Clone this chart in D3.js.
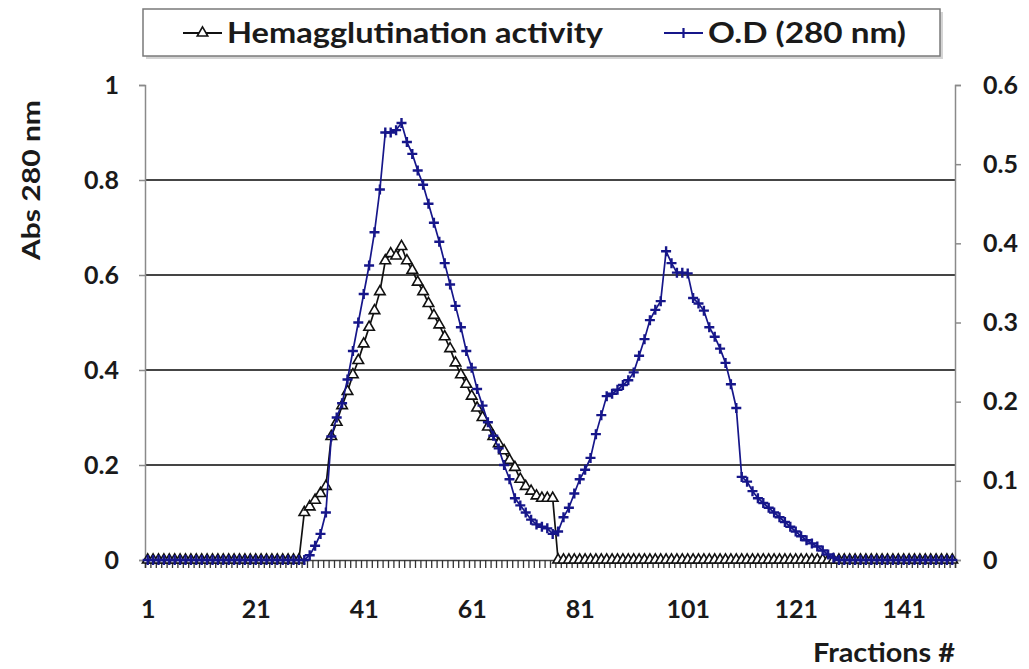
<!DOCTYPE html>
<html>
<head>
<meta charset="utf-8">
<script src="https://cdn.jsdelivr.net/npm/d3@7"></script>
<style>
  html, body { margin: 0; padding: 0; background: #fff; overflow: hidden; }
  svg { display: block; }
  text { font-family: Lato, "Open Sans", sans-serif; font-weight: 700; fill: #1a1a1a; }
</style>
</head>
<body>
<div id="chart"></div>
<script>
// fractions 1..150
const fractions = d3.range(1, 151);

// Hemagglutination activity (left axis), one row = 10 fractions
const hemagglutination = [
  0, 0, 0, 0, 0, 0, 0, 0, 0, 0,
  0, 0, 0, 0, 0, 0, 0, 0, 0, 0,
  0, 0, 0, 0, 0, 0, 0, 0, 0, 0.1,
  0.112, 0.126, 0.14, 0.155, 0.26, 0.29, 0.325, 0.355, 0.39, 0.42,
  0.455, 0.49, 0.525, 0.565, 0.63, 0.645, 0.64, 0.66, 0.63, 0.61,
  0.585, 0.565, 0.54, 0.515, 0.495, 0.47, 0.445, 0.415, 0.39, 0.37,
  0.345, 0.32, 0.3, 0.28, 0.26, 0.245, 0.23, 0.21, 0.195, 0.17,
  0.155, 0.145, 0.135, 0.13, 0.13, 0.13, 0, 0, 0, 0,
  0, 0, 0, 0, 0, 0, 0, 0, 0, 0,
  0, 0, 0, 0, 0, 0, 0, 0, 0, 0,
  0, 0, 0, 0, 0, 0, 0, 0, 0, 0,
  0, 0, 0, 0, 0, 0, 0, 0, 0, 0,
  0, 0, 0, 0, 0, 0, 0, 0, 0, 0,
  0, 0, 0, 0, 0, 0, 0, 0, 0, 0,
  0, 0, 0, 0, 0, 0, 0, 0, 0, 0
];

// O.D (280 nm) (right axis)
const od280 = [
  0, 0, 0, 0, 0, 0, 0, 0, 0, 0,
  0, 0, 0, 0, 0, 0, 0, 0, 0, 0,
  0, 0, 0, 0, 0, 0, 0, 0, 0, 0,
  0.006, 0.018, 0.033, 0.06, 0.156, 0.18, 0.198, 0.228, 0.264, 0.3,
  0.336, 0.372, 0.414, 0.468, 0.54, 0.54, 0.543, 0.552, 0.528, 0.513,
  0.492, 0.474, 0.45, 0.426, 0.402, 0.375, 0.348, 0.321, 0.294, 0.264,
  0.243, 0.216, 0.195, 0.174, 0.157, 0.141, 0.12, 0.102, 0.078, 0.069,
  0.06, 0.051, 0.045, 0.042, 0.04, 0.033, 0.036, 0.054, 0.066, 0.084,
  0.102, 0.114, 0.129, 0.159, 0.183, 0.207, 0.21, 0.215, 0.221, 0.227,
  0.237, 0.258, 0.279, 0.303, 0.316, 0.327, 0.39, 0.375, 0.363, 0.363,
  0.362, 0.331, 0.324, 0.315, 0.294, 0.282, 0.267, 0.249, 0.222, 0.192,
  0.105, 0.099, 0.087, 0.078, 0.072, 0.066, 0.06, 0.054, 0.048, 0.042,
  0.036, 0.03, 0.025, 0.021, 0.017, 0.012, 0.007, 0.003, 0, 0,
  0, 0, 0, 0, 0, 0, 0, 0, 0, 0,
  0, 0, 0, 0, 0, 0, 0, 0, 0, 0
];

const leftTicks = [0, 0.2, 0.4, 0.6, 0.8, 1];
const rightTicks = [0, 0.1, 0.2, 0.3, 0.4, 0.5, 0.6];
const xLabels = [1, 21, 41, 61, 81, 101, 121, 141];
const seriesNames = ["Hemagglutination activity", "O.D (280 nm)"];

const width = 1029, height = 669;
const plotLeft = 145, plotRight = 955, plotTop = 85, plotBottom = 560;
const navy = "#16168a";

const svg = d3.select("#chart").append("svg")
  .attr("width", width).attr("height", height);

// scales
const x = d3.scaleLinear().domain([0.5, 150.5]).range([plotLeft, plotRight]);
const yL = d3.scaleLinear().domain([0, 1]).range([plotBottom, plotTop]);
const yR = d3.scaleLinear().domain([0, 0.6]).range([plotBottom, plotTop]);

// gridlines
svg.append("g").selectAll("line")
  .data(leftTicks.filter(d => d > 0 && d < 1))
  .join("line")
  .attr("x1", plotLeft).attr("x2", plotRight)
  .attr("y1", d => yL(d)).attr("y2", d => yL(d))
  .attr("stroke", "#454545").attr("stroke-width", 2.2);

// left axis
const gL = svg.append("g").attr("transform", `translate(${plotLeft},0)`)
  .call(d3.axisLeft(yL).tickValues(leftTicks).tickSize(6).tickPadding(20).tickFormat(d => d));
gL.select(".domain").attr("stroke", "#8a8a8a").attr("stroke-width", 1.5);
gL.selectAll(".tick line").attr("stroke", "#8a8a8a").attr("stroke-width", 1.5);
gL.selectAll("text").attr("font-size", 25).attr("font-family", null);

// right axis
const gR = svg.append("g").attr("transform", `translate(${plotRight},0)`)
  .call(d3.axisRight(yR).tickValues(rightTicks).tickSize(6).tickPadding(22).tickFormat(d => d));
gR.select(".domain").attr("stroke", "#8a8a8a").attr("stroke-width", 1.5);
gR.selectAll(".tick line").attr("stroke", "#8a8a8a").attr("stroke-width", 1.5);
gR.selectAll("text").attr("font-size", 25).attr("font-family", null);

// x axis: a tick at every category boundary
const gX = svg.append("g").attr("transform", `translate(0,${plotBottom})`)
  .call(d3.axisBottom(x).tickValues(d3.range(0.5, 151, 1)).tickSize(8).tickFormat(""));
gX.select(".domain").attr("stroke", "#444").attr("stroke-width", 1.5);
gX.selectAll(".tick line").attr("stroke", "#333").attr("stroke-width", 1.3);

const gXL = svg.append("g").attr("transform", `translate(0,${plotBottom})`)
  .call(d3.axisBottom(x).tickValues(xLabels).tickSize(0).tickFormat(d => d));
gXL.select(".domain").remove();
gXL.selectAll("text").attr("font-size", 25).attr("font-family", null)
  .attr("y", 58).attr("dy", 0);

// axis titles
svg.append("text")
  .attr("transform", "translate(40,180) rotate(-90)")
  .attr("text-anchor", "middle")
  .attr("font-size", 25)
  .attr("textLength", 160).attr("lengthAdjust", "spacingAndGlyphs")
  .text("Abs 280 nm");

svg.append("text")
  .attr("x", plotRight).attr("y", 662)
  .attr("text-anchor", "end")
  .attr("font-size", 26)
  .attr("textLength", 142).attr("lengthAdjust", "spacingAndGlyphs")
  .text("Fractions #");

// series
const lineL = d3.line().x((d, i) => x(fractions[i])).y(d => yL(d));
const lineR = d3.line().x((d, i) => x(fractions[i])).y(d => yR(d));

svg.append("path").datum(hemagglutination)
  .attr("d", lineL).attr("fill", "none")
  .attr("stroke", "#111").attr("stroke-width", 1.7);

const tri = d3.symbol().type(d3.symbolTriangle).size(48);
svg.append("g").selectAll("path")
  .data(hemagglutination)
  .join("path")
  .attr("d", tri)
  .attr("transform", (d, i) => `translate(${x(fractions[i])},${yL(d)})`)
  .attr("fill", "#fff").attr("stroke", "#111").attr("stroke-width", 1.6);

svg.append("path").datum(od280)
  .attr("d", lineR).attr("fill", "none")
  .attr("stroke", navy).attr("stroke-width", 1.7);

const plus = "M-5,0H5M0,-5V5";
svg.append("g").selectAll("path")
  .data(od280)
  .join("path")
  .attr("d", plus)
  .attr("transform", (d, i) => `translate(${x(fractions[i])},${yR(d)})`)
  .attr("fill", "none").attr("stroke", navy).attr("stroke-width", 2.4);

// legend
const legend = svg.append("g");
legend.append("rect")
  .attr("x", 146).attr("y", 12).attr("width", 797).attr("height", 47)
  .attr("fill", "#d4d4d4");
legend.append("rect")
  .attr("x", 143).attr("y", 9).attr("width", 797).attr("height", 47)
  .attr("fill", "#fff").attr("stroke", "#7a7a7a").attr("stroke-width", 1.5);

const items = [
  { name: seriesNames[0], x0: 183, len: 376, color: "#111", marker: tri(), fill: "#fff", sw: 1.6 },
  { name: seriesNames[1], x0: 664, len: 198, color: navy, marker: plus, fill: "none", sw: 2.2 }
];
items.forEach(it => {
  legend.append("line")
    .attr("x1", it.x0).attr("x2", it.x0 + 39)
    .attr("y1", 33).attr("y2", 33)
    .attr("stroke", it.color).attr("stroke-width", 2);
  legend.append("path")
    .attr("d", it.marker)
    .attr("transform", `translate(${it.x0 + 19.5},33)`)
    .attr("fill", it.fill).attr("stroke", it.color).attr("stroke-width", it.sw);
  legend.append("text")
    .attr("x", it.x0 + 44).attr("y", 43)
    .attr("font-size", 28)
    .attr("textLength", it.len).attr("lengthAdjust", "spacingAndGlyphs")
    .text(it.name);
});
</script>
</body>
</html>
